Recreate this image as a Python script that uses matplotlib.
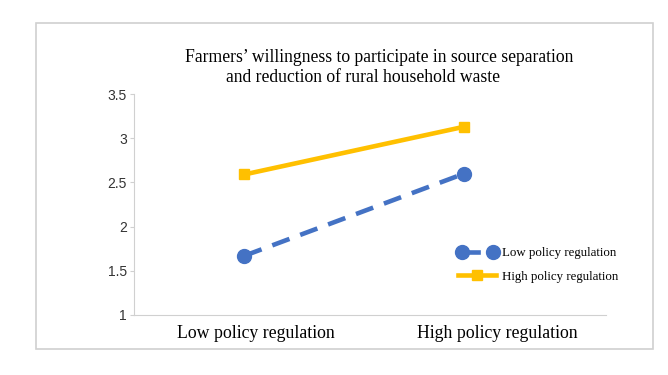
import matplotlib.pyplot as plt
from matplotlib.patches import Rectangle
from matplotlib.legend_handler import HandlerLine2D

categories = ['Low policy regulation', 'High policy regulation']
low_reg = [1.67, 2.60]
high_reg = [2.59, 3.13]
series_names = ['Low policy regulation', 'High policy regulation']
yticks = [1, 1.5, 2, 2.5, 3, 3.5]
ytick_labels = ['1', '1.5', '2', '2.5', '3', '3.5']

blue = '#4472C4'
gold = '#FFC000'

fig = plt.figure(figsize=(6.68, 3.75), dpi=100)
ax = fig.add_axes([0.2006, 0.16, 0.7064, 0.5893])

# outer chart border
fig.patches.append(Rectangle((36 / 668, 1 - 349 / 375), 617 / 668, 326 / 375,
                             transform=fig.transFigure, fill=False,
                             edgecolor='#d0d0d0', linewidth=1.2))

x = [0, 1]
l1, = ax.plot(x, low_reg, color=blue, linewidth=3.3, linestyle=(0, (4, 2.5)),
              marker='o', markersize=10, label=series_names[0])
l2, = ax.plot(x, high_reg, color=gold, linewidth=3.3, marker='s', markersize=7.5,
              label=series_names[1])

ax.set_xlim(-0.502, 1.644)
ax.set_ylim(1, 3.5)
ax.set_yticks(yticks)
ax.set_yticklabels(ytick_labels, fontsize=10, family='Liberation Sans', color='#333333')
ax.set_xticks([0.05, 1.15])
ax.set_xticklabels(categories, fontsize=12.8, family='Liberation Serif')
ax.tick_params(axis='x', length=0, pad=7)
ax.tick_params(axis='y', length=3, color='#d0d0d0', pad=2)

for s in ['top', 'right']:
    ax.spines[s].set_visible(False)
for s in ['left', 'bottom']:
    ax.spines[s].set_color('#d0d0d0')

fig.text(379 / 668, 1 - 57 / 375, "Farmers\u2019 willingness to participate in source separation",
         ha='center', va='center', fontsize=12.7, family='Liberation Serif')
fig.text(363 / 668, 1 - 78 / 375, "and reduction of rural household waste",
         ha='center', va='center', fontsize=12.7, family='Liberation Serif')

fig.legend(handles=[l1, l2], loc='center left', bbox_to_anchor=(446 / 668, 1 - 265 / 375),
           frameon=False, prop={'family': 'Liberation Serif', 'size': 9.3},
           handlelength=3, handletextpad=0.4, labelspacing=0.9,
           handler_map={l1: HandlerLine2D(numpoints=2), l2: HandlerLine2D(numpoints=1)})

fig.savefig('out.png', dpi=100)
